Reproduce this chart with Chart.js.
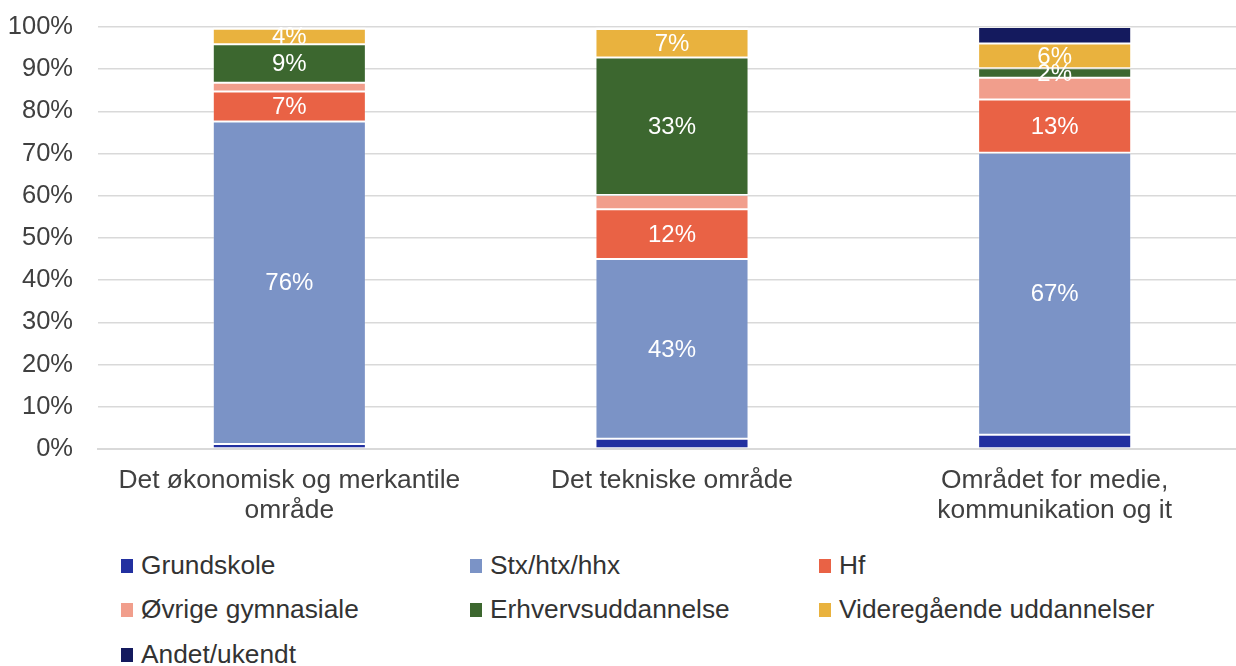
<!DOCTYPE html>
<html>
<head>
<meta charset="utf-8">
<script src="https://cdn.jsdelivr.net/npm/chart.js@4.4.0/dist/chart.umd.min.js"></script>
<style>
  html, body { margin: 0; padding: 0; background: #fff; overflow: hidden; }
  #wrap { position: absolute; left: 0; top: 0; width: 1246px; height: 540px; }
  #legend { position: absolute; left: 0; top: 550px; width: 1236px; height: 116px;
            font-family: "Liberation Sans", Arial, sans-serif; font-size: 26.3px; color: #333; }
  .item { position: absolute; height: 30px; line-height: 30px; white-space: nowrap; }
  .box { position: absolute; left: 0; top: 9px; width: 12px; height: 14px; }
  .txt { position: absolute; left: 20px; top: 0; }
</style>
</head>
<body>
<div id="wrap"><canvas id="myChart" width="1246" height="540"></canvas></div>
<div id="legend"></div>
<script>
var categories = [
  ['Det økonomisk og merkantile', 'område'],
  'Det tekniske område',
  ['Området for medie,', 'kommunikation og it']
];
var seriesNames = ['Grundskole', 'Stx/htx/hhx', 'Hf', 'Øvrige gymnasiale',
                   'Erhvervsuddannelse', 'Videregående uddannelser', 'Andet/ukendt'];
var grundskole = [1.2, 2.4, 3.4];
var stx = [76.4, 42.6, 66.8];
var hf = [7.1, 11.8, 12.6];
var ovrige = [2.1, 3.4, 5.2];
var erhverv = [9.1, 32.6, 2.2];
var videregaaende = [3.7, 6.7, 5.9];
var andet = [0.4, 0.5, 3.9];
var tickLabels = ['0%', '10%', '20%', '30%', '40%', '50%', '60%', '70%', '80%', '90%', '100%'];

var colors = ['#2230A0', '#7B93C6', '#E96245', '#F19E8C', '#3C672F', '#E9B23E', '#141A5E'];
var allSeries = [grundskole, stx, hf, ovrige, erhverv, videregaaende, andet];
var labelled = [1, 2, 4, 5];

var font = '"Liberation Sans", Arial, sans-serif';

var datasets = [];
for (var i = 0; i < allSeries.length; i++) {
  datasets.push({
    label: seriesNames[i],
    data: allSeries[i],
    backgroundColor: colors[i],
    borderColor: 'rgba(255,255,255,0.2)',
    borderWidth: 1,
    borderSkipped: false,
    barPercentage: 0.4,
    categoryPercentage: 1
  });
}

// white percentage labels inside the segments
var valueLabels = {
  id: 'valueLabels',
  afterDatasetsDraw: function (chart) {
    var ctx = chart.ctx;
    ctx.save();
    ctx.fillStyle = '#ffffff';
    ctx.font = '24px ' + font;
    ctx.textAlign = 'center';
    ctx.textBaseline = 'middle';
    labelled.forEach(function (d) {
      var meta = chart.getDatasetMeta(d);
      meta.data.forEach(function (bar, j) {
        var v = chart.data.datasets[d].data[j];
        var yMid = (bar.y + bar.base) / 2;
        ctx.fillText(Math.round(v) + '%', bar.x, yMid + 1);
      });
    });
    ctx.restore();
  }
};

var ctx = document.getElementById('myChart').getContext('2d');
var myChart = new Chart(ctx, {
  type: 'bar',
  data: { labels: categories, datasets: datasets },
  options: {
    responsive: false,
    animation: false,
    layout: { padding: { left: 8, top: 27, right: 0, bottom: 0 } },
    plugins: { legend: { display: false }, tooltip: { enabled: false } },
    scales: {
      x: {
        stacked: true,
        grid: { display: false, drawTicks: false },
        border: { display: true, color: '#D9D9D9', width: 2 },
        ticks: {
          color: '#404040',
          font: { family: font, size: 26.4, lineHeight: 1.12 },
          padding: 17,
          maxRotation: 0,
          autoSkip: false
        },
        afterFit: function (scale) { scale.height = 91; }
      },
      y: {
        stacked: true,
        min: 0,
        max: 100,
        grid: { color: '#D9D9D9', lineWidth: 1.5, drawTicks: false },
        border: { display: false },
        ticks: {
          stepSize: 10,
          color: '#404040',
          font: { family: font, size: 25.5 },
          padding: 25,
          callback: function (value) { return tickLabels[Math.round(value / 10)]; }
        },
        afterFit: function (scale) {
          scale.width = 90;
          scale.paddingTop = 0;
          scale.paddingBottom = 0;
        }
      }
    }
  },
  plugins: [valueLabels]
});

// legend laid out in three columns like the original
var legendPos = [
  [121, 0], [470, 0], [819, 0],
  [121, 44], [470, 44], [819, 44],
  [121, 89]
];
var legend = document.getElementById('legend');
for (var k = 0; k < seriesNames.length; k++) {
  var item = document.createElement('div');
  item.className = 'item';
  item.style.left = legendPos[k][0] + 'px';
  item.style.top = legendPos[k][1] + 'px';
  item.innerHTML = '<span class="box" style="background:' + colors[k] + '"></span>' +
                   '<span class="txt">' + seriesNames[k] + '</span>';
  legend.appendChild(item);
}
</script>
</body>
</html>
